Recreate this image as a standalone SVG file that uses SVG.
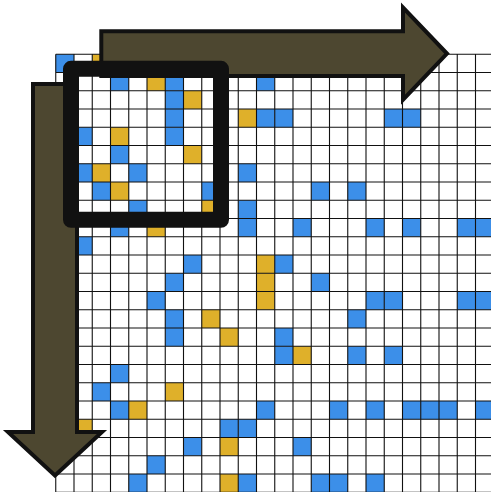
<svg xmlns="http://www.w3.org/2000/svg" width="491" height="492" viewBox="0 0 491 492">
<style>
.b{fill:#3c8fe9}
.y{fill:#dfb02a}
.grid{fill:none;stroke:#111;stroke-width:1.1}
.arrow{fill:#4d4730;stroke:#111;stroke-width:4;stroke-linejoin:miter;stroke-miterlimit:10}
.frame{fill:none;stroke:#111;stroke-width:16;stroke-linejoin:round}
</style>
<rect width="491" height="492" fill="#fff"/>
<g id="grid" transform="translate(55.75 54.25)">
<rect width="438" height="438" fill="#fff"/>
<g id="cells">
<rect class="b" x="0" y="0" width="18.25" height="18.25"/>
<rect class="y" x="36.5" y="0" width="18.25" height="18.25"/>
<rect class="b" x="54.75" y="18.25" width="18.25" height="18.25"/>
<rect class="y" x="91.25" y="18.25" width="18.25" height="18.25"/>
<rect class="b" x="109.5" y="18.25" width="18.25" height="18.25"/>
<rect class="b" x="200.75" y="18.25" width="18.25" height="18.25"/>
<rect class="b" x="109.5" y="36.5" width="18.25" height="18.25"/>
<rect class="y" x="127.75" y="36.5" width="18.25" height="18.25"/>
<rect class="b" x="109.5" y="54.75" width="18.25" height="18.25"/>
<rect class="y" x="182.5" y="54.75" width="18.25" height="18.25"/>
<rect class="b" x="200.75" y="54.75" width="18.25" height="18.25"/>
<rect class="b" x="219" y="54.75" width="18.25" height="18.25"/>
<rect class="b" x="328.5" y="54.75" width="18.25" height="18.25"/>
<rect class="b" x="346.75" y="54.75" width="18.25" height="18.25"/>
<rect class="b" x="18.25" y="73" width="18.25" height="18.25"/>
<rect class="y" x="54.75" y="73" width="18.25" height="18.25"/>
<rect class="b" x="109.5" y="73" width="18.25" height="18.25"/>
<rect class="b" x="54.75" y="91.25" width="18.25" height="18.25"/>
<rect class="y" x="127.75" y="91.25" width="18.25" height="18.25"/>
<rect class="b" x="18.25" y="109.5" width="18.25" height="18.25"/>
<rect class="y" x="36.5" y="109.5" width="18.25" height="18.25"/>
<rect class="b" x="73" y="109.5" width="18.25" height="18.25"/>
<rect class="b" x="182.5" y="109.5" width="18.25" height="18.25"/>
<rect class="b" x="36.5" y="127.75" width="18.25" height="18.25"/>
<rect class="y" x="54.75" y="127.75" width="18.25" height="18.25"/>
<rect class="b" x="146" y="127.75" width="18.25" height="18.25"/>
<rect class="b" x="255.5" y="127.75" width="18.25" height="18.25"/>
<rect class="b" x="292" y="127.75" width="18.25" height="18.25"/>
<rect class="b" x="73" y="146" width="18.25" height="18.25"/>
<rect class="y" x="146" y="146" width="18.25" height="18.25"/>
<rect class="b" x="182.5" y="146" width="18.25" height="18.25"/>
<rect class="b" x="54.75" y="164.25" width="18.25" height="18.25"/>
<rect class="y" x="91.25" y="164.25" width="18.25" height="18.25"/>
<rect class="b" x="182.5" y="164.25" width="18.25" height="18.25"/>
<rect class="b" x="237.25" y="164.25" width="18.25" height="18.25"/>
<rect class="b" x="310.25" y="164.25" width="18.25" height="18.25"/>
<rect class="b" x="346.75" y="164.25" width="18.25" height="18.25"/>
<rect class="b" x="401.5" y="164.25" width="18.25" height="18.25"/>
<rect class="b" x="419.75" y="164.25" width="18.25" height="18.25"/>
<rect class="b" x="18.25" y="182.5" width="18.25" height="18.25"/>
<rect class="b" x="127.75" y="200.75" width="18.25" height="18.25"/>
<rect class="y" x="200.75" y="200.75" width="18.25" height="18.25"/>
<rect class="b" x="219" y="200.75" width="18.25" height="18.25"/>
<rect class="b" x="109.5" y="219" width="18.25" height="18.25"/>
<rect class="y" x="200.75" y="219" width="18.25" height="18.25"/>
<rect class="b" x="255.5" y="219" width="18.25" height="18.25"/>
<rect class="b" x="91.25" y="237.25" width="18.25" height="18.25"/>
<rect class="y" x="200.75" y="237.25" width="18.25" height="18.25"/>
<rect class="b" x="310.25" y="237.25" width="18.25" height="18.25"/>
<rect class="b" x="328.5" y="237.25" width="18.25" height="18.25"/>
<rect class="b" x="401.5" y="237.25" width="18.25" height="18.25"/>
<rect class="b" x="419.75" y="237.25" width="18.25" height="18.25"/>
<rect class="b" x="109.5" y="255.5" width="18.25" height="18.25"/>
<rect class="y" x="146" y="255.5" width="18.25" height="18.25"/>
<rect class="b" x="292" y="255.5" width="18.25" height="18.25"/>
<rect class="b" x="109.5" y="273.75" width="18.25" height="18.25"/>
<rect class="y" x="164.25" y="273.75" width="18.25" height="18.25"/>
<rect class="b" x="219" y="273.75" width="18.25" height="18.25"/>
<rect class="b" x="219" y="292" width="18.25" height="18.25"/>
<rect class="y" x="237.25" y="292" width="18.25" height="18.25"/>
<rect class="b" x="292" y="292" width="18.25" height="18.25"/>
<rect class="b" x="328.5" y="292" width="18.25" height="18.25"/>
<rect class="b" x="54.75" y="310.25" width="18.25" height="18.25"/>
<rect class="b" x="36.5" y="328.5" width="18.25" height="18.25"/>
<rect class="y" x="109.5" y="328.5" width="18.25" height="18.25"/>
<rect class="b" x="54.75" y="346.75" width="18.25" height="18.25"/>
<rect class="y" x="73" y="346.75" width="18.25" height="18.25"/>
<rect class="b" x="200.75" y="346.75" width="18.25" height="18.25"/>
<rect class="b" x="273.75" y="346.75" width="18.25" height="18.25"/>
<rect class="b" x="310.25" y="346.75" width="18.25" height="18.25"/>
<rect class="b" x="346.75" y="346.75" width="18.25" height="18.25"/>
<rect class="b" x="365" y="346.75" width="18.25" height="18.25"/>
<rect class="b" x="383.25" y="346.75" width="18.25" height="18.25"/>
<rect class="b" x="419.75" y="346.75" width="18.25" height="18.25"/>
<rect class="y" x="18.25" y="365" width="18.25" height="18.25"/>
<rect class="b" x="164.25" y="365" width="18.25" height="18.25"/>
<rect class="b" x="182.5" y="365" width="18.25" height="18.25"/>
<rect class="b" x="127.75" y="383.25" width="18.25" height="18.25"/>
<rect class="y" x="164.25" y="383.25" width="18.25" height="18.25"/>
<rect class="b" x="237.25" y="383.25" width="18.25" height="18.25"/>
<rect class="b" x="91.25" y="401.5" width="18.25" height="18.25"/>
<rect class="b" x="73" y="419.75" width="18.25" height="18.25"/>
<rect class="y" x="164.25" y="419.75" width="18.25" height="18.25"/>
<rect class="b" x="182.5" y="419.75" width="18.25" height="18.25"/>
<rect class="b" x="255.5" y="419.75" width="18.25" height="18.25"/>
<rect class="b" x="273.75" y="419.75" width="18.25" height="18.25"/>
<rect class="b" x="310.25" y="419.75" width="18.25" height="18.25"/>
</g>
<path class="grid" d="M0 0V438M18.25 0V438M36.5 0V438M54.75 0V438M73 0V438M91.25 0V438M109.5 0V438M127.75 0V438M146 0V438M164.25 0V438M182.5 0V438M200.75 0V438M219 0V438M237.25 0V438M255.5 0V438M273.75 0V438M292 0V438M310.25 0V438M328.5 0V438M346.75 0V438M365 0V438M383.25 0V438M401.5 0V438M419.75 0V438M438 0V438M0 0H438M0 18.25H438M0 36.5H438M0 54.75H438M0 73H438M0 91.25H438M0 109.5H438M0 127.75H438M0 146H438M0 164.25H438M0 182.5H438M0 200.75H438M0 219H438M0 237.25H438M0 255.5H438M0 273.75H438M0 292H438M0 310.25H438M0 328.5H438M0 346.75H438M0 365H438M0 383.25H438M0 401.5H438M0 419.75H438M0 438H438"/>
</g>
<g id="arrow-right">
<path class="arrow" d="M101.3 31.3H403V7.5L447 53.6L403 99.7V76H101.3Z"/>
</g>
<g id="arrow-down">
<path class="arrow" d="M33 84H77V432H102L55 475.5L8 432H33Z"/>
</g>
<g id="frame">
<rect class="frame" x="71" y="68.8" width="150" height="151"/>
</g>
</svg>
